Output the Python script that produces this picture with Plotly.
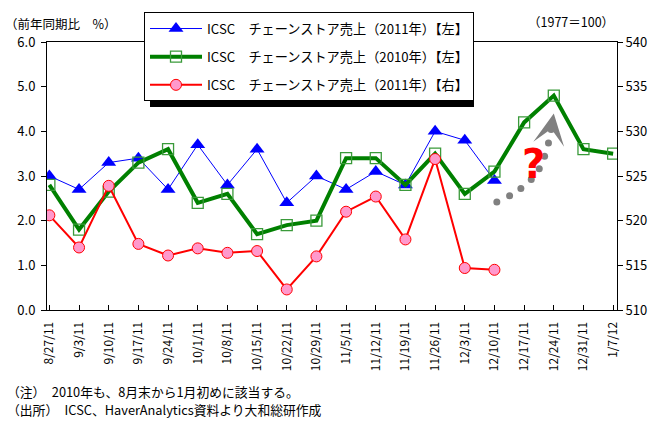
import plotly.graph_objects as go

# Week-ending dates on the horizontal axis
weeks = ["8/27/11", "9/3/11", "9/10/11", "9/17/11", "9/24/11", "10/1/11", "10/8/11",
         "10/15/11", "10/22/11", "10/29/11", "11/5/11", "11/12/11", "11/19/11",
         "11/26/11", "12/3/11", "12/10/11", "12/17/11", "12/24/11", "12/31/11", "1/7/12"]

# ICSC chain store sales, year-on-year % (2011, left axis)
yoy_2011 = [3.0, 2.7, 3.3, 3.4, 2.7, 3.7, 2.8, 3.6, 2.4, 3.0, 2.7, 3.1, 2.8, 4.0, 3.8, 2.9]
# ICSC chain store sales, year-on-year % (2010, left axis)
yoy_2010 = [2.8, 1.8, 2.65, 3.3, 3.6, 2.4, 2.6, 1.7, 1.9, 2.0, 3.4, 3.4, 2.8, 3.5, 2.6,
            3.1, 4.2, 4.8, 3.6, 3.5]
# ICSC chain store sales index, 1977=100 (2011, right axis)
index_2011 = [520.6, 517.0, 523.9, 517.4, 516.1, 516.9, 516.4, 516.6, 512.3, 516.0,
              521.0, 522.7, 517.9, 526.9, 514.7, 514.5]

# Hand-drawn outlook arrow (week position, index level)
outlook_path_x = [15.08, 15.51, 15.89, 16.24, 16.51, 16.69, 16.82, 16.91]
outlook_path_y = [522.1, 522.8, 523.6, 524.6, 525.8, 527.2, 528.7, 530.2]
outlook_tip = (17.0, 532.0)

legend_names = [
    "ICSC　チェーンストア売上（2011年）【左】",
    "ICSC　チェーンストア売上（2010年）【左】",
    "ICSC　チェーンストア売上（2011年）【右】",
]

notes = [
    "（注）　2010年も、8月末から1月初めに該当する。",
    "（出所）　ICSC、HaverAnalytics資料より大和総研作成",
]

W, H = 667, 421
ML, MR, MT, MB = 47, 50, 38, 111
PW, PH = W - ML - MR, H - MT - MB


def px_x(px):
    return (px - ML) / PW


def px_y(py):
    return (H - MB - py) / PH


FONT = "Noto Sans CJK JP, Liberation Sans, sans-serif"

fig = go.Figure()

fig.add_trace(go.Scatter(
    x=list(range(len(yoy_2011))), y=yoy_2011, name=legend_names[0],
    legendgroup="a", mode="lines+markers",
    line=dict(color="#0000ff", width=1),
    marker=dict(symbol="triangle-up", size=13, color="#0000ff"),
))
fig.add_trace(go.Scatter(
    x=list(range(len(yoy_2010))), y=yoy_2010, name=legend_names[1],
    legendgroup="b", mode="lines+markers",
    line=dict(color="#008000", width=4),
    marker=dict(symbol="square", size=11, color="rgba(0,0,0,0)",
                line=dict(color="#3a9a3a", width=1.3)),
))
fig.add_trace(go.Scatter(
    x=list(range(len(index_2011))), y=index_2011, name=legend_names[2],
    legendgroup="c", mode="lines+markers", yaxis="y2",
    line=dict(color="#ff0000", width=2),
    marker=dict(symbol="circle", size=11, color="#ff99cc",
                line=dict(color="#ff0000", width=1)),
))
fig.add_trace(go.Scatter(
    x=outlook_path_x, y=outlook_path_y, yaxis="y2", mode="markers",
    marker=dict(symbol="circle", size=7, color="#808080"),
    showlegend=False, hoverinfo="skip",
))

axis_font = dict(family=FONT, size=12, color="black")
value_font = dict(family=FONT, size=13, color="black")

fig.update_layout(
    width=W, height=H, autosize=False,
    margin=dict(l=ML, r=MR, t=MT, b=MB),
    paper_bgcolor="white", plot_bgcolor="white",
    font=dict(family=FONT, size=12, color="black"),
    xaxis=dict(
        range=[-0.08, 19.13], tickmode="array",
        tickvals=list(range(len(weeks))), ticktext=weeks,
        tickangle=-90, ticks="inside", ticklen=5, tickcolor="black",
        showline=True, linecolor="black", linewidth=1, mirror=True,
        showgrid=False, zeroline=False, tickfont=axis_font,
        ticklabelstandoff=6,
    ),
    yaxis=dict(
        range=[0, 6], dtick=1, tickformat=".1f",
        ticks="outside", ticklen=5, tickcolor="black",
        showline=True, linecolor="black", linewidth=1,
        showgrid=False, zeroline=False, tickfont=value_font,
        ticklabelstandoff=3,
    ),
    yaxis2=dict(
        range=[510, 540], dtick=5, overlaying="y", side="right",
        ticks="outside", ticklen=5, tickcolor="black",
        showline=True, linecolor="black", linewidth=1,
        showgrid=False, zeroline=False, tickfont=value_font,
    ),
    legend=dict(
        x=px_x(144), y=px_y(8), xanchor="left", yanchor="top",
        bgcolor="white", bordercolor="black", borderwidth=1,
        font=dict(family=FONT, size=13.2, color="black"),
        traceorder="grouped", tracegroupgap=8, itemwidth=52,
    ),
    showlegend=True,
)

# Drop shadow behind the legend box
fig.add_shape(type="rect", xref="paper", yref="paper",
              x0=px_x(150), x1=px_x(474), y0=px_y(104), y1=px_y(14),
              fillcolor="black", line=dict(width=0), layer="above")

annotations = [
    dict(text="（前年同期比　%）", x=px_x(3), y=px_y(19), xanchor="left", yanchor="middle",
         font=dict(size=12.5)),
    dict(text="（1977＝100）", x=px_x(616), y=px_y(17), xanchor="right", yanchor="middle",
         font=dict(size=12.5)),
    dict(text=notes[0], x=px_x(5), y=px_y(392.5), xanchor="left", yanchor="middle",
         font=dict(size=12.8)),
    dict(text=notes[1], x=px_x(5), y=px_y(411.3), xanchor="left", yanchor="middle",
         font=dict(size=12.8)),
]
for a in annotations:
    a.update(xref="paper", yref="paper", showarrow=False)
    fig.add_annotation(**a)

# Question mark next to the outlook arrow
fig.add_annotation(text="<b>?</b>", x=16.31, y=526.3, xref="x", yref="y2",
                   showarrow=False, font=dict(family="DejaVu Sans, Liberation Sans", size=40,
                                              color="#ff0000"))
# Arrow head at the end of the dotted path
fig.add_annotation(x=outlook_tip[0], y=outlook_tip[1], xref="x", yref="y2",
                   ax=outlook_path_x[-1], ay=outlook_path_y[-1], axref="x", ayref="y2",
                   text="", showarrow=True, arrowhead=3, arrowsize=2.6, arrowwidth=2,
                   arrowcolor="#808080")

fig.write_html("out.html")
